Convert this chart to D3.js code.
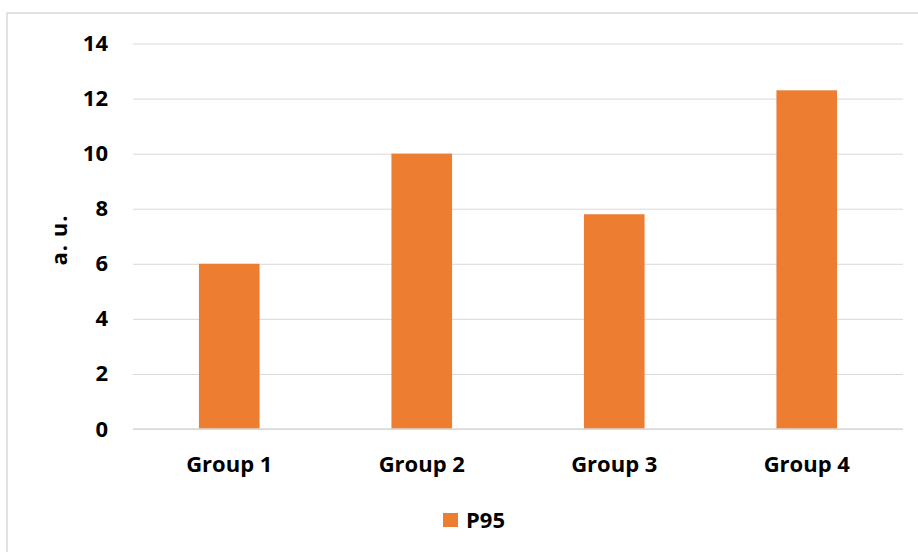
<!DOCTYPE html>
<html><head><meta charset="utf-8">
<script src="https://cdn.jsdelivr.net/npm/d3@7/dist/d3.min.js"></script>
<style>body{margin:0;background:#fff}svg{display:block}</style>
</head><body><svg id="c" width="918" height="552"></svg>
<script>
const categories = ["Group 1", "Group 2", "Group 3", "Group 4"];
const values = [6.0, 10.0, 7.8, 12.3];
const yTicks = [0, 2, 4, 6, 8, 10, 12, 14];
const seriesName = "P95";
const yTitle = "a. u.";

const svg = d3.select("#c");
const font = "'Open Sans', sans-serif";
const fs = 22;
const W = 918, H = 552;
const m = {left: 133, right: 15, top: 43.5, bottom: 123};

svg.append("rect").attr("x", 7).attr("y", 13).attr("width", 930).attr("height", 560)
  .attr("fill", "#fff").attr("stroke", "#d9d9d9").attr("stroke-width", 1.5);

const x = d3.scaleBand().domain(categories).range([m.left, W - m.right]).padding(0);
const y = d3.scaleLinear().domain([0, 14]).range([H - m.bottom, m.top]);

// grid
const yAxis = d3.axisLeft(y).tickValues(yTicks).tickSize(-(W - m.right - m.left)).tickPadding(25);
const gy = svg.append("g").attr("transform", `translate(${m.left},0)`).call(yAxis);
gy.select(".domain").remove();
gy.selectAll(".tick line").attr("stroke", "#d9d9d9").attr("stroke-width", 1);
gy.selectAll(".tick text").attr("font-family", font).attr("font-weight", "bold")
  .attr("font-size", fs).attr("fill", "#000");

const bw = x.bandwidth() * 0.315;
svg.append("g").selectAll("rect").data(values).join("rect")
  .attr("x", (d, i) => x(categories[i]) + x.bandwidth() / 2 - bw / 2)
  .attr("width", bw)
  .attr("y", d => y(d))
  .attr("height", d => y(0) - y(d))
  .attr("fill", "#ED7D31");

// baseline
svg.append("line").attr("x1", m.left).attr("x2", W - m.right).attr("y1", y(0)).attr("y2", y(0))
  .attr("stroke", "#d9d9d9").attr("stroke-width", 1.5);

const xAxis = d3.axisBottom(x).tickSize(0).tickPadding(27);
const gx = svg.append("g").attr("transform", `translate(0,${y(0)})`).call(xAxis);
gx.select(".domain").remove();
gx.selectAll(".tick text").attr("font-family", font).attr("font-weight", "bold")
  .attr("font-size", fs).attr("fill", "#000");

svg.append("text").attr("transform", `translate(67,240) rotate(-90)`)
  .attr("text-anchor", "middle").attr("font-family", font).attr("font-weight", "bold")
  .attr("font-size", fs).attr("letter-spacing", 1).attr("fill", "#000").text(yTitle);

const lg = svg.append("g").attr("transform", "translate(443,513)");
lg.append("rect").attr("width", 15).attr("height", 14).attr("fill", "#ED7D31");
lg.append("text").attr("x", 23).attr("y", 7).attr("dy", "0.35em").attr("font-family", font)
  .attr("font-weight", "bold").attr("font-size", fs).attr("fill", "#000").text(seriesName);
</script></body></html>
